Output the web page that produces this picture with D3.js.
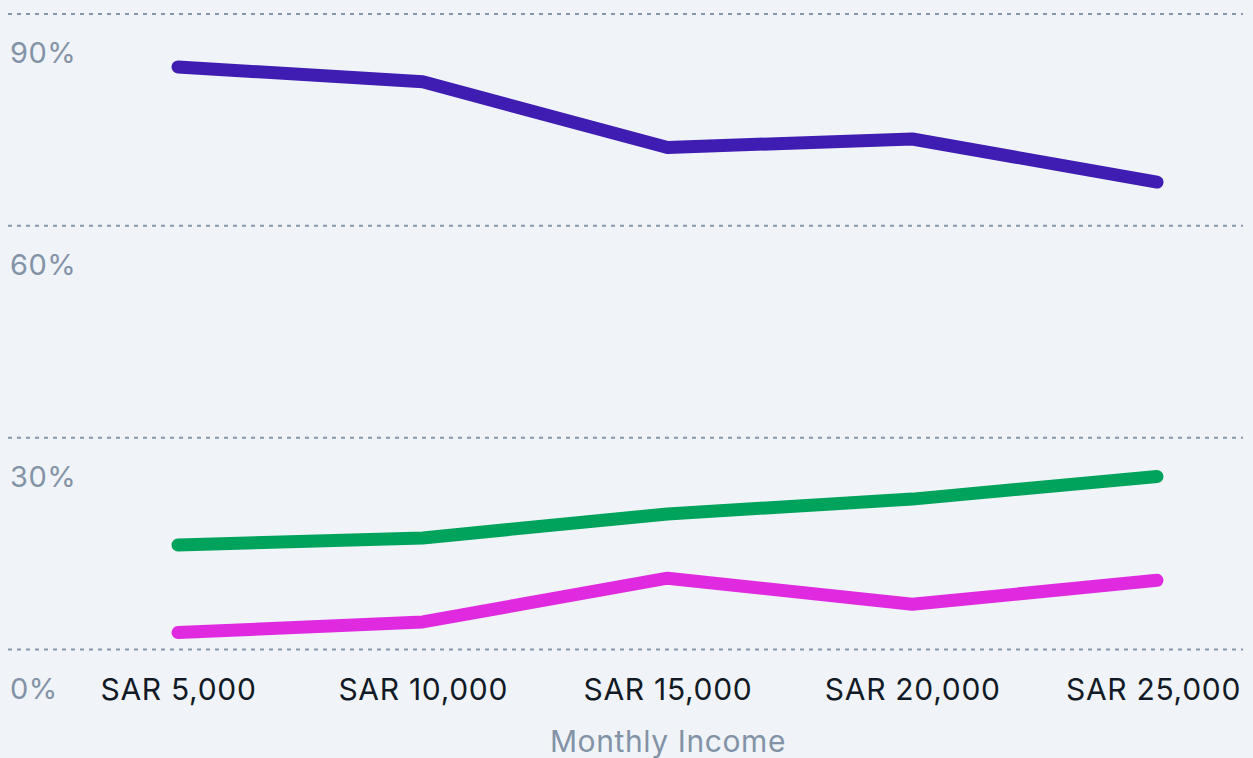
<!DOCTYPE html>
<html>
<head>
<meta charset="utf-8">
<script src="https://cdn.jsdelivr.net/npm/d3@7"></script>
<style>
    html, body { margin: 0; padding: 0; background: #f0f4f8; overflow: hidden; }
    svg { display: block; font-family: Inter, "Noto Sans", sans-serif; }
</style>
</head>
<body>
<div id="chart"></div>
<script>
// data
var incomeLabels = ['SAR 5,000', 'SAR 10,000', 'SAR 15,000', 'SAR 20,000', 'SAR 25,000'];
var purpleValues = [82.5, 80.4, 71.1, 72.3, 66.2];
var greenValues = [14.8, 15.8, 19.2, 21.3, 24.5];
var magentaValues = [2.4, 3.9, 10.1, 6.4, 9.8];
var yTicks = [0, 30, 60, 90];

var series = [
    {name: 'purple', color: '#3f1cb2', values: purpleValues},
    {name: 'green', color: '#00a35c', values: greenValues},
    {name: 'magenta', color: '#e02ae0', values: magentaValues}
];

var width = 1253, height = 758;

var svg = d3.select('#chart')
    .append('svg')
    .attr('width', width)
    .attr('height', height);

var x = d3.scalePoint()
    .domain(incomeLabels)
    .range([178, 1157]);

var y = d3.scaleLinear()
    .domain([0, 90])
    .range([649.5, 14]);

// dashed grid lines
svg.append('g')
    .selectAll('line')
    .data(yTicks)
    .enter().append('line')
    .attr('x1', 8)
    .attr('x2', 1243)
    .attr('y1', d => y(d))
    .attr('y2', d => y(d))
    .attr('stroke', '#8797ab')
    .attr('stroke-width', 2)
    .attr('stroke-dasharray', '4,5');

// y labels sit under the line
svg.append('g')
    .selectAll('text')
    .data(yTicks)
    .enter().append('text')
    .attr('x', 10)
    .attr('y', d => y(d) + 49)
    .attr('fill', '#8393a7')
    .attr('font-size', 29)
    .attr('letter-spacing', 0.5)
    .text(d => d + '%');

// x axis labels
var xAxis = d3.axisBottom(x).tickSize(0).tickPadding(0);
var gx = svg.append('g')
    .attr('transform', 'translate(0,' + 700 + ')')
    .call(xAxis);
gx.select('.domain').remove();
gx.selectAll('text')
    .attr('dy', 0)
    .attr('font-size', 30)
    .attr('letter-spacing', 0.7)
    .attr('font-family', 'Inter, "Noto Sans", sans-serif')
    .attr('fill', '#121a26');
// last label is held inside the right edge
gx.selectAll('.tick').filter((d, i) => i === incomeLabels.length - 1)
    .select('text').attr('dx', -4);

svg.append('text')
    .attr('x', 668)
    .attr('y', 752)
    .attr('text-anchor', 'middle')
    .attr('fill', '#8393a7')
    .attr('font-size', 30)
    .attr('letter-spacing', 0.6)
    .text('Monthly Income');

var line = d3.line()
    .x((d, i) => x(incomeLabels[i]))
    .y(d => y(d));

svg.append('g')
    .selectAll('path')
    .data(series)
    .enter().append('path')
    .attr('d', d => line(d.values))
    .attr('fill', 'none')
    .attr('stroke', d => d.color)
    .attr('stroke-width', 13)
    .attr('stroke-linecap', 'round')
    .attr('stroke-linejoin', 'round');
</script>
</body>
</html>
